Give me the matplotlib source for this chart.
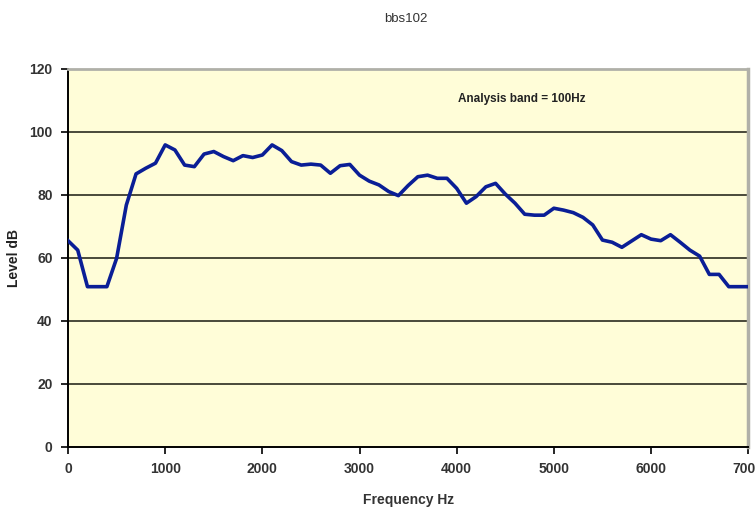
import matplotlib
matplotlib.use('Agg')
import matplotlib.pyplot as plt
import numpy as np

plt.rcParams['font.family'] = ['Liberation Sans', 'DejaVu Sans']

# spectrum, 100 Hz bands
freq = np.arange(0, 7100, 100)
level = [65.4, 62.4, 50.8, 50.8, 50.8, 59.8, 76.7, 86.6, 88.4, 90.0,
         95.8, 94.2, 89.4, 88.9, 92.9, 93.7, 92.1, 90.8, 92.4, 91.8,
         92.6, 95.8, 94.0, 90.5, 89.4, 89.7, 89.4, 86.8, 89.2, 89.6,
         86.2, 84.3, 83.1, 81.0, 79.7, 82.9, 85.7, 86.2, 85.2, 85.2,
         82.0, 77.3, 79.4, 82.5, 83.6, 80.2, 77.3, 73.8, 73.5, 73.5,
         75.7, 75.1, 74.3, 72.8, 70.4, 65.6, 64.9, 63.3, 65.3, 67.3,
         65.9, 65.4, 67.3, 64.9, 62.4, 60.5, 54.7, 54.7, 50.8, 50.8,
         50.8]

yticks = [0, 20, 40, 60, 80, 100, 120]
xticks = [0, 1000, 2000, 3000, 4000, 5000, 6000, 7000]

fig = plt.figure(figsize=(7.55, 5.11), dpi=100)
ax = fig.add_axes([0.0901, 0.1258, 0.9009, 0.7398])
ax.set_facecolor('#FFFDD8')

for y in yticks[1:-1]:
    ax.axhline(y, color='#4a4a3a', lw=1.4, zorder=1)

ax.plot(freq, level, color='#0A1E96', lw=2.6, zorder=3)

ax.set_xlim(0, 7000)
ax.set_ylim(0, 120)
ax.set_xticks(xticks)
ax.set_yticks(yticks)
ax.tick_params(direction='out', length=5, width=1.2, color='black',
               labelsize=10, labelcolor='#333333', pad=6)
for lab in ax.get_xticklabels() + ax.get_yticklabels():
    lab.set_fontweight('bold')

ax.spines['left'].set_color('black')
ax.spines['bottom'].set_color('black')
ax.spines['left'].set_linewidth(1.4)
ax.spines['bottom'].set_linewidth(1.4)
ax.spines['top'].set_color('#B0B0A8')
ax.spines['right'].set_color('#B0B0A8')
ax.spines['top'].set_linewidth(2)
ax.spines['right'].set_linewidth(2.5)

ax.set_xlabel('Frequency Hz', fontsize=10, fontweight='bold', color='#333333', labelpad=12)
ax.set_ylabel('Level dB', fontsize=10, fontweight='bold', color='#222222', labelpad=6)
fig.text(0.538, 0.962, 'bbs102', ha='center', va='center', fontsize=9.5, color='#333333')
ax.text(4670, 110.5, 'Analysis band = 100Hz', ha='center', va='center',
        fontsize=8.5, fontweight='bold', color='#222222')

fig.savefig('out.png', dpi=100)
